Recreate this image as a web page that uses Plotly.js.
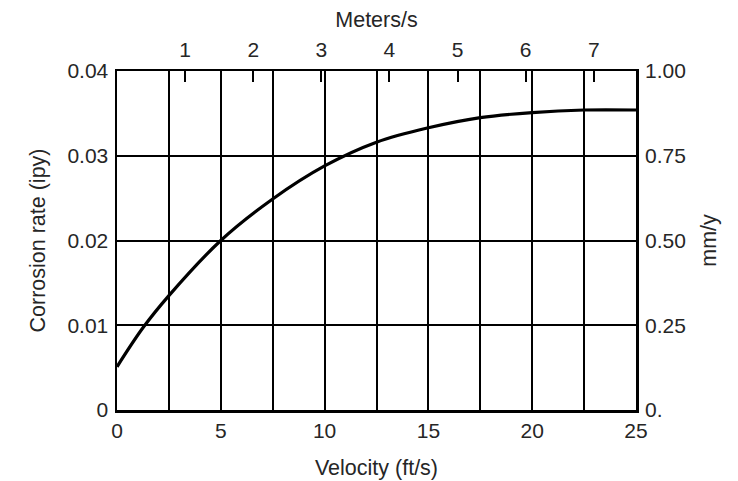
<!DOCTYPE html>
<html>
<head>
<meta charset="utf-8">
<script src="https://cdn.plot.ly/plotly-3.0.1.min.js"></script>
<style>html,body{margin:0;padding:0;background:#fff;}#chart{width:738px;height:481px;}</style>
</head>
<body>
<div id="chart"></div>
<script>
// Data
const velocityFtS = [0, 1.25, 2.5, 5, 7.5, 10, 12.5, 15, 17.5, 20, 22.5, 25];
const corrosionIpy = [0.0051, 0.0097, 0.0135, 0.0200, 0.0249, 0.0288, 0.0316, 0.0333, 0.0345, 0.0351, 0.0354, 0.0354];

const xTickVals = [0, 2.5, 5, 7.5, 10, 12.5, 15, 17.5, 20, 22.5, 25];
const xTickText = ['0', '', '5', '', '10', '', '15', '', '20', '', '25'];
const yTickVals = [0, 0.01, 0.02, 0.03, 0.04];
const yTickText = ['0', '0.01', '0.02', '0.03', '0.04'];
const mTickVals = [1, 2, 3, 4, 5, 6, 7];
const mmTickVals = [0, 0.25, 0.5, 0.75, 1];
const mmTickText = ['0.', '0.25', '0.50', '0.75', '1.00'];
const FT_PER_M = 3.2808;

const font = {family: 'Liberation Sans, Arial, sans-serif', size: 21, color: '#262626'};
const titleFont = {family: 'Liberation Sans, Arial, sans-serif', size: 21.5, color: '#262626'};

const traces = [
  {x: velocityFtS, y: corrosionIpy, type: 'scatter', mode: 'lines',
   line: {color: '#000', width: 3.2, shape: 'spline', smoothing: 1}, hoverinfo: 'skip', xaxis: 'x', yaxis: 'y'},
  {x: [null], y: [null], type: 'scatter', mode: 'lines', xaxis: 'x2', yaxis: 'y2', hoverinfo: 'skip', showlegend: false}
];

const layout = {
  width: 738, height: 481,
  margin: {l: 117, r: 102, t: 71, b: 71},
  paper_bgcolor: '#fff', plot_bgcolor: '#fff',
  showlegend: false,
  font: font,
  xaxis: {
    range: [0, 25], tickvals: xTickVals, ticktext: xTickText,
    showgrid: true, gridcolor: '#000', gridwidth: 2,
    showline: true, linecolor: '#000', linewidth: 2.5, mirror: true,
    zeroline: false, ticks: '', ticklabelstandoff: 0,
    tickfont: font,
    title: {text: 'Velocity (ft/s)', font: titleFont, standoff: 19}
  },
  yaxis: {
    range: [0, 0.04], tickvals: yTickVals, ticktext: yTickText,
    showgrid: true, gridcolor: '#000', gridwidth: 2,
    showline: true, linecolor: '#000', linewidth: 2.5, mirror: true,
    zeroline: false, ticks: '', ticklabelstandoff: 2,
    tickfont: font,
    title: {text: 'Corrosion rate (ipy)', font: titleFont, standoff: 16}
  },
  xaxis2: {
    overlaying: 'x', side: 'top', anchor: 'y',
    range: [0, 25 / FT_PER_M], tickvals: mTickVals,
    showgrid: false, zeroline: false, showline: false,
    ticks: 'inside', ticklen: 11, tickwidth: 2, tickcolor: '#000',
    tickfont: font, ticklabelstandoff: 9,
    title: {text: 'Meters/s', font: titleFont, standoff: 4}
  },
  yaxis2: {
    overlaying: 'y', side: 'right', anchor: 'x',
    range: [0, 1], tickvals: mmTickVals, ticktext: mmTickText,
    showgrid: false, zeroline: false, showline: false,
    ticks: '', ticklabelstandoff: 8,
    tickfont: font,
    title: {text: 'mm/y', font: titleFont, standoff: 16}
  }
};

Plotly.newPlot('chart', traces, layout, {staticPlot: true, displayModeBar: false});
</script>
</body>
</html>
